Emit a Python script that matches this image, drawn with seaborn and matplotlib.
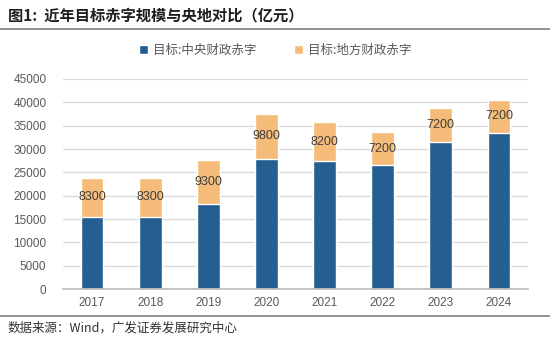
import matplotlib
matplotlib.use("Agg")
import matplotlib.pyplot as plt
import seaborn as sns
import pandas as pd

years = ["2017", "2018", "2019", "2020", "2021", "2022", "2023", "2024"]
central = [15500, 15500, 18300, 27800, 27500, 26500, 31600, 33400]
local = [8300, 8300, 9300, 9800, 8200, 7200, 7200, 7200]
yticks = [0, 5000, 10000, 15000, 20000, 25000, 30000, 35000, 40000, 45000]

sns.set_theme(style="white")
plt.rcParams['font.family'] = ['Noto Sans CJK SC', 'DejaVu Sans']

BLUE = "#255E91"
ORANGE = "#F4BC78"

df = pd.DataFrame({"year": years, "central": central, "local": local})
df["total"] = df["central"] + df["local"]

fig = plt.figure(figsize=(5.5, 3.4), dpi=100)
ax = fig.add_axes([63/550, 1-289/340, (528-63)/550, (289-79)/340])

sns.barplot(data=df, x="year", y="total", color=ORANGE, width=0.39, ax=ax,
            saturation=1, label="目标:地方财政赤字")
sns.barplot(data=df, x="year", y="central", color=BLUE, width=0.39, ax=ax,
            saturation=1, label="目标:中央财政赤字")
handles, labels = ax.get_legend_handles_labels()
if ax.get_legend() is not None:
    ax.get_legend().remove()

for i, (c, l) in enumerate(zip(central, local)):
    ax.text(i, c + l / 2, f"{l}", ha="center", va="center", fontsize=9,
            color="#404040", family=["Liberation Sans", "DejaVu Sans"])

ax.set_ylim(0, 45000)
ax.set_yticks(yticks)
ax.set_xlim(-0.5, 7.5)
ax.set_xlabel("")
ax.set_ylabel("")
ax.yaxis.grid(True, color="#D9D9D9", linewidth=0.9)
ax.set_axisbelow(True)
for s in ["left", "right", "top"]:
    ax.spines[s].set_visible(False)
ax.spines["bottom"].set_color("#BFBFBF")
ax.tick_params(axis="y", length=0, labelsize=8.5, labelcolor="#595959", pad=12)
ax.tick_params(axis="x", length=0, labelsize=8.5, labelcolor="#595959", pad=6)
for lab in ax.get_xticklabels() + ax.get_yticklabels():
    lab.set_family(["Liberation Sans", "DejaVu Sans"])
ax.set_xticks([i - 0.5 for i in range(9)], minor=True)
ax.tick_params(axis="x", which="minor", length=4, color="#BFBFBF", direction="out")

order = [labels.index("目标:中央财政赤字"), labels.index("目标:地方财政赤字")]
fig.legend([handles[o] for o in order], [labels[o] for o in order],
           loc="center", bbox_to_anchor=(0.5, 1 - 50/340), ncol=2, frameon=False,
           fontsize=9, handlelength=0.7, handleheight=0.7, columnspacing=3.0,
           handletextpad=0.4, labelcolor="#595959")

fig.text(8/550, 1 - 15/340, "图1:  近年目标赤字规模与央地对比（亿元）", fontsize=11,
         fontweight="bold", color="#1F1F1F", va="center", ha="left")
fig.add_artist(plt.Line2D([0, 1], [1 - 29/340, 1 - 29/340], color="#7F7F7F", linewidth=1.2))
fig.add_artist(plt.Line2D([0, 1], [1 - 316/340, 1 - 316/340], color="#7F7F7F", linewidth=1.2))
fig.text(8/550, 1 - 328/340, "数据来源：Wind，广发证券发展研究中心", fontsize=9,
         color="#333333", va="center", ha="left")

fig.savefig("out.png", dpi=100)
